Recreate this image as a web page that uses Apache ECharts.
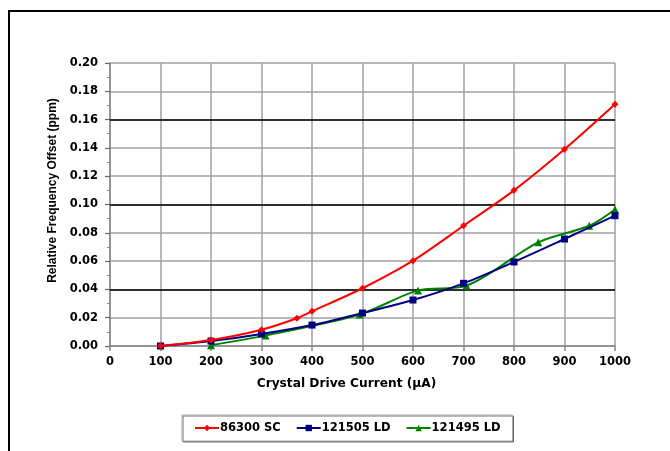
<!DOCTYPE html>
<html>
<head>
<meta charset="utf-8">
<script src="https://cdn.jsdelivr.net/npm/echarts@6/dist/echarts.min.js"></script>
<style>
  html, body { margin: 0; padding: 0; background: #fff; }
  #chart { width: 670px; height: 451px; }
</style>
</head>
<body>
<div id="chart"></div>
<script>
// Drive current (µA) and frequency offset (ppm) for each crystal
const sc86300X = [100, 200, 300, 370, 400, 500, 600, 700, 800, 900, 1000];
const sc86300Y = [0.000, 0.0042, 0.0115, 0.0196, 0.0245, 0.0408, 0.0603, 0.085, 0.110, 0.139, 0.1708];

const ld121505X = [100, 200, 300, 400, 500, 600, 700, 800, 900, 1000];
const ld121505Y = [0.000, 0.0035, 0.0085, 0.0148, 0.0233, 0.0325, 0.0443, 0.0594, 0.0756, 0.0921];

const ld121495X = [200, 308, 494, 610, 706, 848, 949, 1000];
const ld121495Y = [0.0005, 0.0075, 0.0223, 0.0393, 0.0427, 0.0733, 0.085, 0.0965];

const seriesNames = ['86300 SC', '121505 LD', '121495 LD'];
const limitLines = [0.04, 0.10, 0.16];

const xTitle = 'Crystal Drive Current (\u00B5A)';
const yTitle = 'Relative Frequency Offset (ppm)';

function pairs(xs, ys) {
  return xs.map((x, i) => [x, ys[i]]);
}

const WIDE = '"DejaVu Sans", "Liberation Sans", Arial, sans-serif';
const NARROW = '"Liberation Sans", Arial, sans-serif';

const chart = echarts.init(document.getElementById('chart'), null, { renderer: 'canvas' });

chart.setOption({
  animation: false,
  backgroundColor: '#fff',
  textStyle: { fontFamily: WIDE },
  graphic: [{
    type: 'rect',
    shape: { x: 9, y: 11, width: 700, height: 500 },
    style: { fill: 'none', stroke: '#000', lineWidth: 2 },
    silent: true,
    z: 100
  }],
  grid: { left: 110, right: 55, top: 63, bottom: 105 },
  legend: {
    left: 182,
    top: 415,
    width: 331,
    height: 28,
    padding: [7, 12, 7, 12],
    itemGap: 15,
    itemWidth: 24,
    itemHeight: 8,
    borderColor: '#aaa',
    borderWidth: 1,
    backgroundColor: '#fff',
    shadowColor: 'rgba(80,80,80,0.8)',
    shadowOffsetX: 1,
    shadowOffsetY: 1,
    shadowBlur: 0,
    textStyle: { fontFamily: WIDE, fontWeight: 'bold', fontSize: 11.5, color: '#000', padding: [0, 0, 0, -4] },
    data: seriesNames
  },
  xAxis: {
    type: 'value',
    min: 0,
    max: 1000,
    interval: 100,
    name: xTitle,
    nameLocation: 'middle',
    nameGap: 32,
    nameTextStyle: { fontFamily: WIDE, fontWeight: 'bold', fontSize: 12.2, color: '#000', padding: [0, 32, 0, 0] },
    axisLine: { show: true, onZero: false, lineStyle: { color: '#888', width: 1.5 } },
    axisTick: { show: true, length: 5, lineStyle: { color: '#888', width: 1.5 } },
    axisLabel: {
      fontFamily: WIDE, fontWeight: 'bold', fontSize: 11.5, color: '#000', margin: 10,
      formatter: v => String(v)
    },
    splitLine: { show: true, lineStyle: { color: '#a0a0a0', width: 1.5 } }
  },
  yAxis: {
    type: 'value',
    min: 0,
    max: 0.2,
    interval: 0.02,
    name: yTitle,
    nameLocation: 'middle',
    nameGap: 49,
    nameRotate: 90,
    nameTextStyle: { fontFamily: NARROW, fontWeight: 'bold', fontSize: 12, color: '#000', padding: [0, 0, 0, 28] },
    axisLine: { show: true, onZero: false, lineStyle: { color: '#888', width: 1.5 } },
    axisTick: { show: true, length: 5, lineStyle: { color: '#666', width: 1.2 } },
    minorTick: { show: true, splitNumber: 2, length: 3, lineStyle: { color: '#888', width: 1 } },
    axisLabel: {
      fontFamily: WIDE, fontWeight: 'bold', fontSize: 11.5, color: '#000', margin: 12,
      formatter: v => v.toFixed(2)
    },
    splitLine: { show: true, lineStyle: { color: '#a0a0a0', width: 1.5 } }
  },
  series: [
    {
      name: seriesNames[0],
      type: 'line',
      data: pairs(sc86300X, sc86300Y),
      smooth: 0.3,
      symbol: 'diamond',
      symbolSize: 7,
      color: '#ff0000',
      lineStyle: { width: 2, color: '#ff0000' },
      z: 5,
      markLine: {
        silent: true,
        symbol: ['none', 'none'],
        label: { show: false },
        lineStyle: { color: '#000', width: 1.5, type: 'solid' },
        data: limitLines.map(v => ({ yAxis: v })),
        z: 1
      }
    },
    {
      name: seriesNames[1],
      type: 'line',
      data: pairs(ld121505X, ld121505Y),
      smooth: 0.3,
      symbol: 'rect',
      symbolSize: 7,
      color: '#000080',
      lineStyle: { width: 2, color: '#000080' },
      z: 4
    },
    {
      name: seriesNames[2],
      type: 'line',
      data: pairs(ld121495X, ld121495Y),
      smooth: 0.3,
      symbol: 'triangle',
      symbolSize: 8,
      color: '#008000',
      lineStyle: { width: 2, color: '#008000' },
      z: 3
    }
  ]
});
</script>
</body>
</html>
